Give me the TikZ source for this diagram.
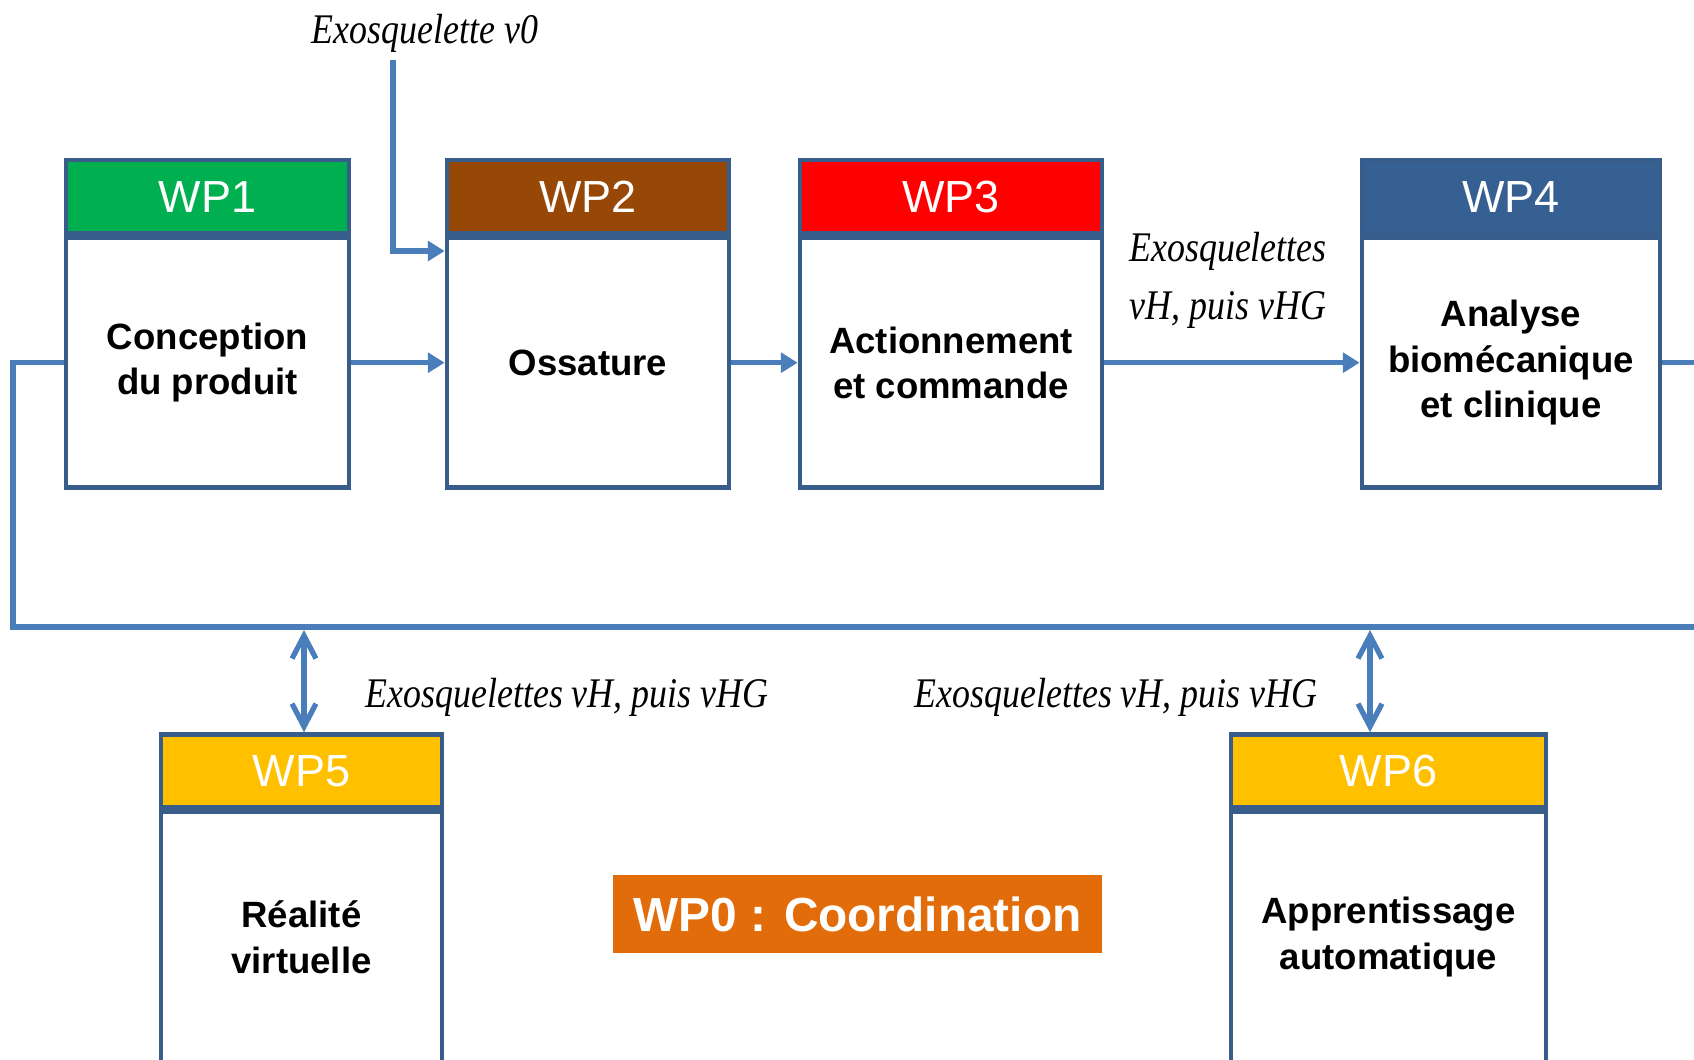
\documentclass[tikz,border=0pt]{standalone}
\usepackage{fontspec}
\setmainfont{Liberation Sans}
\newfontfamily\handfont[FakeStretch=0.85]{Liberation Serif}
\usetikzlibrary{arrows.meta,positioning}

\begin{document}
\begin{tikzpicture}[x=0.01cm,y=-0.01cm,
  wphead/.style={draw=framecolor,line width=1.3pt,minimum height=0.73cm,inner sep=0pt,text=white,font=\fontsize{12.8}{14}\selectfont},
  wpbody/.style={draw=framecolor,line width=1.3pt,fill=white,minimum height=2.5cm,inner sep=0pt,align=center,font=\fontsize{10.4}{12.9}\selectfont\bfseries},
  flow/.style={draw=linkcolor,line width=1.5pt,-{Triangle[length=4.8pt,width=5.6pt]}},
  link/.style={draw=linkcolor,line width=1.5pt},
  both/.style={draw=linkcolor,line width=1.5pt,{Straight Barb[length=6.5pt,width=6.8pt]}-{Straight Barb[length=6.5pt,width=6.8pt]}},
  hand/.style={font=\handfont\itshape\fontsize{12}{16.5}\selectfont,align=center,inner sep=0pt}]
\definecolor{framecolor}{RGB}{56,93,138}
\definecolor{linkcolor}{RGB}{74,126,187}
\definecolor{wp1color}{RGB}{0,176,80}
\definecolor{wp2color}{RGB}{152,72,6}
\definecolor{wp3color}{RGB}{255,0,0}
\definecolor{wp4color}{RGB}{55,96,146}
\definecolor{wp56color}{RGB}{255,192,0}
\definecolor{wp0color}{RGB}{227,108,10}
\useasboundingbox (0,0) rectangle (1694,1059);
\node [wphead,fill=wp1color,minimum width=2.83cm] (wp1h) at (207.5,196.5) {WP1};
\node [wpbody,minimum width=2.83cm,below=0pt of wp1h] (wp1) {Conception\\du produit};
\node [wphead,fill=wp2color,minimum width=2.82cm] (wp2h) at (588,196.5) {WP2};
\node [wpbody,minimum width=2.82cm,below=0pt of wp2h] (wp2) {Ossature};
\node [wphead,fill=wp3color,minimum width=3.02cm] (wp3h) at (951,196.5) {WP3};
\node [wpbody,minimum width=3.02cm,below=0pt of wp3h] (wp3) {Actionnement\\et commande};
\node [wphead,fill=wp4color,minimum width=2.98cm] (wp4h) at (1511,196.5) {WP4};
\node [wpbody,minimum width=2.98cm,below=0pt of wp4h] (wp4) {Analyse\\biomécanique\\et clinique};
\node [wphead,fill=wp56color,minimum width=2.81cm] (wp5h) at (301.5,771) {WP5};
\node [wpbody,minimum width=2.81cm,below=0pt of wp5h] (wp5) {Réalité\\virtuelle};
\node [wphead,fill=wp56color,minimum width=3.15cm] (wp6h) at (1388.5,771) {WP6};
\node [wpbody,minimum width=3.15cm,below=0pt of wp6h] (wp6) {Apprentissage\\automatique};
\node [fill=wp0color,text=white,minimum width=4.89cm,minimum height=0.78cm,font=\fontsize{13.6}{16}\selectfont\bfseries] (wp0) at (857.5,914) {WP0 : Coordination};
\node [hand] (labv0) at (425,33) {Exosquelette v0};
\node [hand] (lab34) at (1228,280) {Exosquelettes\\vH, puis vHG};
\node [hand] (lab5) at (567,697) {Exosquelettes vH, puis vHG};
\node [hand] (lab6) at (1116,697) {Exosquelettes vH, puis vHG};
\coordinate (v0top) at (393,60);
\coordinate (v0bend) at (393,251);
\coordinate (busl) at (13,627);
\coordinate (busr) at (1720,627);
\coordinate (b5) at (304,630);
\coordinate (b6) at (1370,630);
\draw [flow] (v0top) -- (v0bend) -- (v0bend -| wp2.west);
\draw [flow] (wp1.east) -- (wp2.west);
\draw [flow] (wp2.east) -- (wp3.west);
\draw [flow] (wp3.east) -- (wp4.west);
\draw [link] (wp4.east) -- (wp4.east -| busr);
\draw [link] (wp1.west) -- (wp1.west -| busl) -- (busl) -- (busr);
\draw [both] (b5) -- (b5 |- wp5h.north);
\draw [both] (b6) -- (b6 |- wp6h.north);
\end{tikzpicture}
\end{document}
